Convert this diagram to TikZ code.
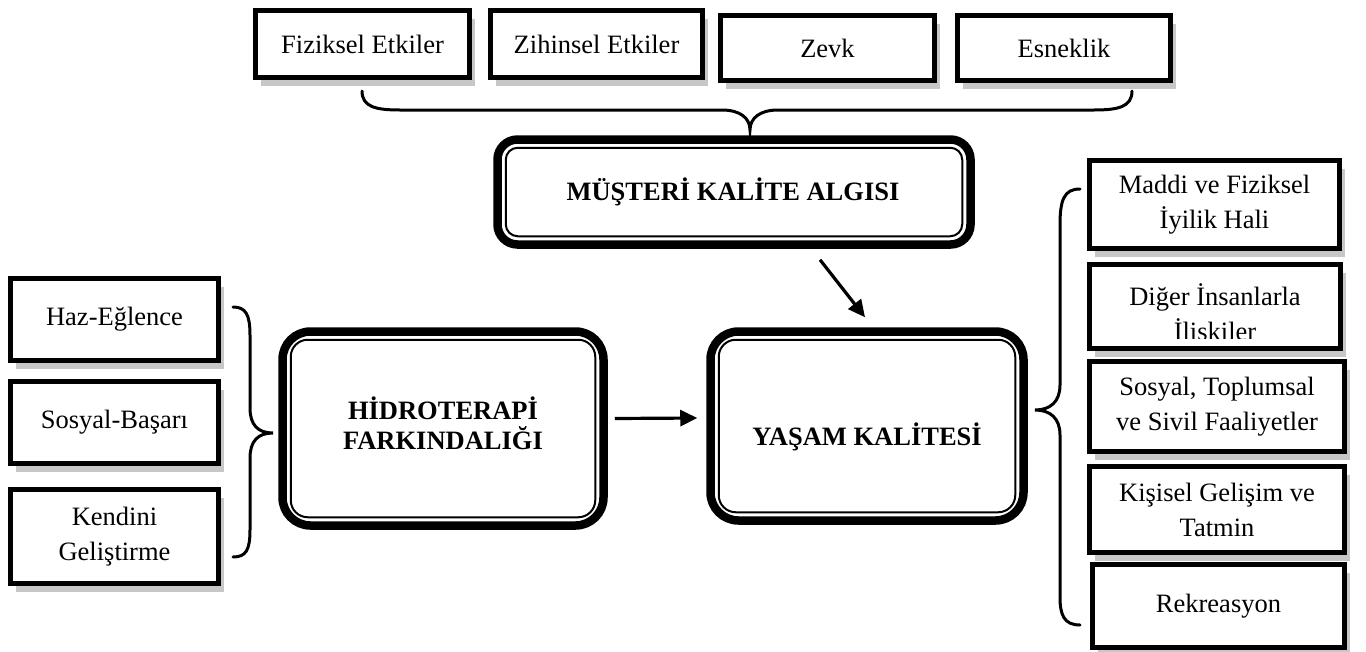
\documentclass[tikz,border=0pt]{standalone}
\usepackage{fontspec}
\setmainfont{Liberation Serif}
\usetikzlibrary{arrows.meta,calc,shadows}
\begin{document}
\begin{tikzpicture}[x=1pt,y=-1pt,
  every node/.style={inner sep=0pt, align=center, font=\fontsize{26.5}{35}\selectfont},
  sbox/.style={draw, line width=5pt, fill=white,
    drop shadow={shadow xshift=5pt, shadow yshift=-8pt, fill=black!22, opacity=1}},
  bigbox/.style={draw, line width=8.5pt, fill=white},
  innerline/.style={line width=2pt},
  btxt/.style={font=\fontsize{26.5}{30}\selectfont\bfseries},
  brace/.style={line width=3pt, line cap=round},
  arr/.style={line width=3.2pt, -{Triangle[length=17pt,width=16pt]}}
]
\useasboundingbox (0,0) rectangle (1366,651);

% top boxes
\node[sbox, minimum width=214pt, minimum height=67pt] (fiz) at (362.5,44) {Fiziksel Etkiler};
\node[sbox, minimum width=212pt, minimum height=67pt] (zih) at (596.5,44) {Zihinsel Etkiler};
\node[sbox, minimum width=214pt, minimum height=65pt] (zev) at (827.5,48) {Zevk};
\node[sbox, minimum width=213pt, minimum height=65pt] (esn) at (1064,48) {Esneklik};

% left boxes
\node[sbox, minimum width=208pt, minimum height=82pt] (haz) at (114.5,319.5) {Haz-Eğlence};
\node[sbox, minimum width=208pt, minimum height=82pt] (sos) at (114.5,422.5) {Sosyal-Başarı};
\node[sbox, minimum width=208pt, minimum height=94pt] (ken) at (114.5,536.5) {Kendini\\Geliştirme};

% right boxes
\node[sbox, minimum width=250pt, minimum height=88pt] (mad) at (1214.5,204.5) {Maddi ve Fiziksel\\İyilik Hali};
\node[sbox, minimum width=251pt, minimum height=84pt] (dig) at (1215,306.5) {};
\begin{scope}
  \clip (1087,262) rectangle (1343,338);
  \node (digT) at (1215,312) {Diğer İnsanlarla\\İliskiler};
\end{scope}
\node[sbox, minimum width=255pt, minimum height=90pt] (soc) at (1217,406.5) {Sosyal, Toplumsal\\ve Sivil Faaliyetler};
\node[sbox, minimum width=255pt, minimum height=86pt] (kis) at (1217,509.5) {Kişisel Gelişim ve\\Tatmin};
\node[sbox, minimum width=252pt, minimum height=83pt] (rek) at (1218.5,606) {Rekreasyon};

% big rounded boxes
\node[bigbox, rounded corners=20pt, minimum width=473pt, minimum height=105pt] (mus) at (734,192) {};
\draw[innerline, rounded corners=12pt] ($(mus.north west)+(12.5,12.5)$) rectangle ($(mus.south east)+(-12.5,-12.5)$);
\node[btxt] (musT) at (733,192) {MÜŞTERİ KALİTE ALGISI};

\node[bigbox, rounded corners=28pt, minimum width=321pt, minimum height=194pt] (hid) at (443,428.5) {};
\draw[innerline, rounded corners=17pt] ($(hid.north west)+(12.5,12.5)$) rectangle ($(hid.south east)+(-12.5,-12.5)$);
\node[btxt] (hidT) at (443,423) {HİDROTERAPİ\\FARKINDALIĞI};

\node[bigbox, rounded corners=28pt, minimum width=313pt, minimum height=189pt] (yas) at (867,426) {};
\draw[innerline, rounded corners=17pt] ($(yas.north west)+(12.5,12.5)$) rectangle ($(yas.south east)+(-12.5,-12.5)$);
\node[btxt] (yasT) at (867,437) {YAŞAM KALİTESİ};

% arrows
\draw[arr] ($(hid.east)+(7,-10)$) -- ($(yas.west)+(-9,-8)$);
\draw[arr] ($(mus.south)+(86,11)$) -- ($(yas.north)+(-2,-10)$);

% braces
\coordinate (tbL) at (362,91);
\coordinate (tbM) at (750,130);
\coordinate (tbR) at (1132,91);
\draw[brace] (tbL) .. controls (362,107) and (376,110) .. (400,110) -- (722,110)
  .. controls (740,110) and (750,118) .. (tbM)
  .. controls (750,118) and (760,110) .. (778,110) -- (1094,110)
  .. controls (1118,110) and (1132,107) .. (tbR);

\coordinate (lbT) at (233,307);
\coordinate (lbM) at (273,433);
\coordinate (lbB) at (233,557);
\draw[brace] (lbT) .. controls (246,307) and (250,315) .. (250,335) -- (250,408)
  .. controls (250,425) and (258,433) .. (lbM)
  .. controls (258,433) and (250,441) .. (250,458) -- (250,530)
  .. controls (250,550) and (246,557) .. (lbB);

\coordinate (rbT) at (1080,189);
\coordinate (rbM) at (1035,410);
\coordinate (rbB) at (1080,625);
\draw[brace] (rbT) .. controls (1064,189) and (1060,200) .. (1060,225) -- (1060,385)
  .. controls (1060,402) and (1050,410) .. (rbM)
  .. controls (1050,410) and (1060,418) .. (1060,435) -- (1060,597)
  .. controls (1060,615) and (1064,625) .. (rbB);
\end{tikzpicture}
\end{document}
